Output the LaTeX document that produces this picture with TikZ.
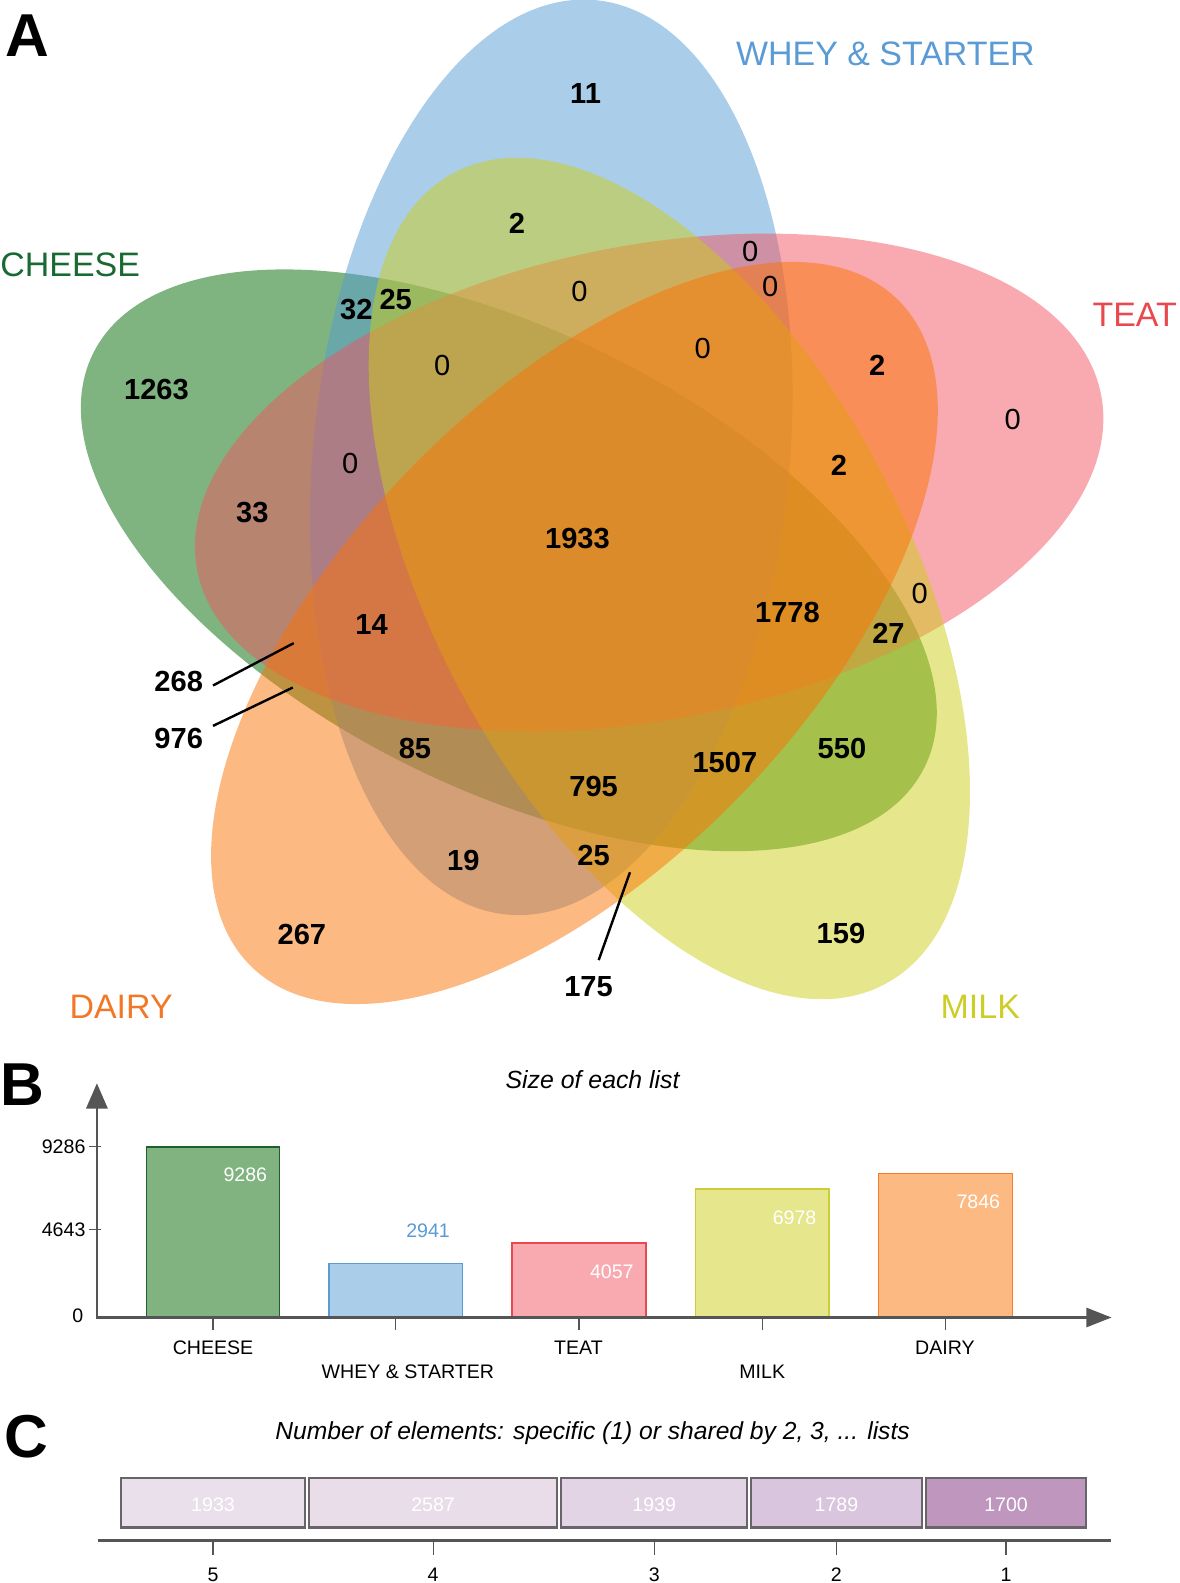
\documentclass[tikz,border=0pt]{standalone}
\usepackage{fontspec}
\setmainfont{Liberation Sans}
\usetikzlibrary{arrows.meta}
\definecolor{cheese}{RGB}{0,104,0}
\definecolor{whey}{RGB}{85,155,211}
\definecolor{teat}{RGB}{241,85,97}
\definecolor{milk}{RGB}{205,205,25}
\definecolor{dairy}{RGB}{251,115,5}
\definecolor{cheeseTxt}{RGB}{25,105,50}
\definecolor{wheyTxt}{RGB}{91,155,213}
\definecolor{teatTxt}{RGB}{232,72,78}
\definecolor{milkTxt}{RGB}{205,205,40}
\definecolor{dairyTxt}{RGB}{242,120,40}
\definecolor{cheeseEdge}{RGB}{30,95,45}
\definecolor{wheyEdge}{RGB}{90,155,212}
\definecolor{teatEdge}{RGB}{232,72,78}
\definecolor{milkEdge}{RGB}{205,205,60}
\definecolor{dairyEdge}{RGB}{245,125,40}
\definecolor{axisgray}{RGB}{85,85,85}
\definecolor{boxedge}{RGB}{105,100,105}
\definecolor{boxA}{RGB}{234,224,236}
\definecolor{boxB}{RGB}{233,221,234}
\definecolor{boxC}{RGB}{227,212,229}
\definecolor{boxD}{RGB}{217,197,221}
\definecolor{boxE}{RGB}{190,150,190}
\begin{document}
\begin{tikzpicture}[x=0.5pt,y=-0.5pt,
  setfill/.style={fill opacity=0.5},
  num/.style={font=\fontsize{14.4}{17}\selectfont\bfseries, inner sep=0pt},
  zero/.style={font=\fontsize{14.4}{17}\selectfont, inner sep=0pt},
  setlab/.style={font=\fontsize{16.8}{20}\selectfont, inner sep=0pt},
  panel/.style={font=\fontsize{30}{34}\selectfont\bfseries, inner sep=0pt},
  small/.style={font=\fontsize{9.7}{12}\selectfont, inner sep=0pt},
  ttlB/.style={font=\fontsize{12.3}{15}\selectfont\itshape, inner sep=0pt},
  ttlC/.style={font=\fontsize{12.2}{15}\selectfont\itshape, inner sep=0pt},
  leader/.style={line width=1.2pt, black},
  axisline/.style={line width=1.2pt, axisgray},
  tick/.style={line width=0.6pt, axisgray},
  bar/.style={line width=0.8pt},
  cbox/.style={line width=1pt, draw=boxedge}
]
\useasboundingbox (0,0) rectangle (1168,1568);

% ---------------- Panel A : Venn diagram ----------------
\fill[cheese, setfill, rotate around={153.5:(504,555)}] (504,555) ellipse [x radius=230pt, y radius=113pt];
\fill[whey, setfill, rotate around={84.4:(546,453)}] (546,453) ellipse [x radius=227.5pt, y radius=118pt];
\fill[teat, setfill, rotate around={11:(643,478)}] (643,478) ellipse [x radius=228pt, y radius=117.5pt];
\fill[milk, setfill, rotate around={-62:(663,573)}] (663,573) ellipse [x radius=227.5pt, y radius=117.5pt];
\fill[dairy, setfill, rotate around={-134:(569,627)}] (569,627) ellipse [x radius=230pt, y radius=115pt];

\node[panel] (pA) at (27,35) {A};
\node[setlab, text=wheyTxt] (lW) at (877,53) {WHEY \& STARTER};
\node[setlab, text=cheeseTxt, anchor=west] (lC) at (0,262) {CHEESE};
\node[setlab, text=teatTxt, anchor=east] (lT) at (1166,312) {TEAT};
\node[setlab, text=dairyTxt] (lD) at (120,997) {DAIRY};
\node[setlab, text=milkTxt] (lM) at (971,997) {MILK};

\node[num] (v11) at (580,93) {11};
\node[num] (v2a) at (512,221) {2};
\node[zero] (z1) at (743,249) {0};
\node[zero] (z2) at (763,284) {0};
\node[zero] (z3) at (574,289) {0};
\node[num] (v32) at (353,307) {32};
\node[num] (v25a) at (392,297) {25};
\node[num] (v1263) at (155,386) {1263};
\node[zero] (z4) at (438,362) {0};
\node[zero] (z5) at (696,345) {0};
\node[num] (v2b) at (869,362) {2};
\node[zero] (z6) at (1003,416) {0};
\node[zero] (z7) at (347,459) {0};
\node[num] (v2c) at (831,461) {2};
\node[num] (v33) at (250,508) {33};
\node[num] (v1933) at (572,533) {1933};
\node[num] (v1778) at (780,607) {1778};
\node[zero] (z8) at (911,588) {0};
\node[num] (v27) at (880,627) {27};
\node[num] (v14) at (368,619) {14};
\node[num] (v268) at (177,675) {268};
\node[num] (v976) at (177,731) {976};
\node[num] (v85) at (411,741) {85};
\node[num] (v1507) at (718,755) {1507};
\node[num] (v550) at (834,741) {550};
\node[num] (v795) at (588,779) {795};
\node[num] (v19) at (459,852) {19};
\node[num] (v25b) at (588,847) {25};
\node[num] (v267) at (299,926) {267};
\node[num] (v159) at (833,925) {159};
\node[num] (v175) at (583,977) {175};

\coordinate (a268s) at (211,679); \coordinate (a268e) at (291,637);
\coordinate (a976s) at (211,719); \coordinate (a976e) at (290,681);
\coordinate (a175s) at (593,951); \coordinate (a175e) at (624,864);
\draw[leader] (a268s) -- (a268e);
\draw[leader] (a976s) -- (a976e);
\draw[leader] (a175s) -- (a175e);

% ---------------- Panel B : bar chart ----------------
\node[panel] (pB) at (22,1074) {B};
\node[ttlB] (tB) at (587,1069) {Size of each list};

\draw[bar, fill=cheese!50, draw=cheeseEdge] (145,1305) rectangle (277,1136);
\draw[bar, fill=whey!50, draw=wheyEdge] (326,1305) rectangle (458,1251.5);
\draw[bar, fill=teat!50, draw=teatEdge] (507,1305) rectangle (640,1231.2);
\draw[bar, fill=milk!50, draw=milkEdge] (689,1305) rectangle (821,1178);
\draw[bar, fill=dairy!50, draw=dairyEdge] (870,1305) rectangle (1003,1162.2);

\draw[axisline, -{Triangle[length=12.5pt, width=10.5pt]}] (96,1306) -- (96,1073);
\draw[axisline, -{Triangle[length=12.5pt, width=9.5pt]}] (95,1305) -- (1101,1305);

\draw[tick] (88,1136) -- (100,1136);
\draw[tick] (88,1218) -- (100,1218);
\node[small, anchor=east] (y1) at (85,1136) {9286};
\node[small, anchor=east] (y2) at (85,1218) {4643};
\node[small, anchor=east] (y0) at (83,1303) {0};

\foreach \xx in {211,392,573.5,755,936.5} \draw[tick] (\xx,1306) -- (\xx,1317);

\node[small, text=white, anchor=east] (b1) at (265,1164) {9286};
\node[small, text=wheyTxt, anchor=east] (b2) at (446,1219) {2941};
\node[small, text=white, anchor=east] (b3) at (628,1260) {4057};
\node[small, text=white, anchor=east] (b4) at (809,1206) {6978};
\node[small, text=white, anchor=east] (b5) at (991,1190) {7846};

\node[small] (x1) at (211,1335) {CHEESE};
\node[small] (x2) at (404,1359) {WHEY \& STARTER};
\node[small] (x3) at (573,1335) {TEAT};
\node[small] (x4) at (755,1359) {MILK};
\node[small] (x5) at (936,1335) {DAIRY};

% ---------------- Panel C ----------------
\node[panel] (pC) at (26,1423) {C};
\node[ttlC] (tC) at (587,1420) {Number of elements: specific (1) or shared by 2, 3, ... lists};

\draw[cbox, fill=boxA] (120,1464) rectangle (302,1513);
\draw[cbox, fill=boxB] (306,1464) rectangle (552,1513);
\draw[cbox, fill=boxC] (556,1464) rectangle (740,1513);
\draw[cbox, fill=boxD] (744,1464) rectangle (913,1513);
\draw[cbox, fill=boxE] (917,1464) rectangle (1076,1513);
\node[small, text=white] (c1) at (211,1490) {1933};
\node[small, text=white] (c2) at (429,1490) {2587};
\node[small, text=white] (c3) at (648,1490) {1939};
\node[small, text=white] (c4) at (828.5,1490) {1789};
\node[small, text=white] (c5) at (996.5,1490) {1700};

\draw[line width=1.6pt, axisgray] (97,1526) -- (1100,1526);
\foreach \xx in {211,429,648,828.5,996.5} \draw[tick] (\xx,1527) -- (\xx,1540);
\node[small] (k5) at (211,1560) {5};
\node[small] (k4) at (429,1560) {4};
\node[small] (k3) at (648,1560) {3};
\node[small] (k2) at (828.5,1560) {2};
\node[small] (k1) at (996.5,1560) {1};
\end{tikzpicture}
\end{document}
